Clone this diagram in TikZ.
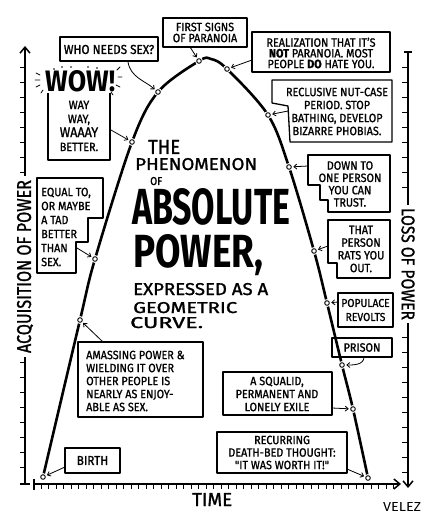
\documentclass[tikz,border=0pt]{standalone}
\usepackage{fontspec}
\usepackage{graphicx}
\setmainfont{Fira Sans}
\newfontfamily\cmc[FakeBold=1.2, FakeStretch=0.9]{Fira Sans}
\usetikzlibrary{arrows.meta}
\tikzset{
  boxline/.style={line width=1.3pt, line join=round},
  btxt/.style={inner sep=0pt, align=center, font=\cmc\fontsize{12}{13}\selectfont},
  ptr/.style={line width=0.8pt, shorten >=1.5pt, -{Straight Barb[length=3pt,width=5pt]}},
  cdot/.style={circle, draw, fill=white, line width=0.9pt, inner sep=0pt, minimum size=4.6pt, preaction={draw=white, line width=3pt}},
  pcurve/.style={line width=2.6pt, line cap=round},
  axisline/.style={line width=1.5pt},
  tickline/.style={line width=0.9pt},
  axtip/.style={-{Straight Barb[length=6pt,width=10pt,line width=1.5pt]}},
  ttl/.style={inner sep=0pt, anchor=base west},
  spark/.style={line width=0.8pt, line cap=round},
}
\begin{document}
\begin{tikzpicture}[x=1pt,y=-1pt]
\useasboundingbox (0,0) rectangle (432,518);

% ---- axes ----
\draw[axisline] (25,484) -- (25,357);
\draw[axisline,axtip] (25,176) -- (25,46);
\draw[axisline] (20,484) -- (30,484);
\foreach \y in {67,82,...,172} \draw[tickline] (20,\y) -- (25,\y);
\foreach \y in {362,377,...,467} \draw[tickline] (20,\y) -- (25,\y);
\node[rotate=90, inner sep=0pt] (lacq) at (25,266.5) {\resizebox{173pt}{14pt}{\cmc ACQUISITION OF POWER}};

\draw[axisline,axtip] (34,484) -- (401,484);
\draw[axisline] (34,479) -- (34,490);
\foreach \x in {41,48.5,...,394} \draw[tickline] (\x,484) -- (\x,489);
\node[ttl] (ltime) at (192,506) {\resizebox{40pt}{13pt}{\cmc TIME}};

\draw[axisline] (404,52) -- (412,52);
\draw[axisline] (408,52) -- (408,205);
\draw[axisline,axtip] (408,323) -- (408,488);
\foreach \y in {67,82,...,187} \draw[tickline] (402,\y) -- (408,\y);
\foreach \y in {337,352,...,472} \draw[tickline] (402,\y) -- (408,\y);
\node[rotate=-90, inner sep=0pt] (lloss) at (408,264) {\resizebox{112pt}{13pt}{\cmc LOSS OF POWER}};

\node[ttl] (sig) at (383,511) {\resizebox{38pt}{9pt}{VELEZ}};

% ---- curve ----
\coordinate (p1) at (43,477);
\coordinate (p2) at (80,320);
\coordinate (p3) at (95,259);
\coordinate (p4) at (132,142);
\coordinate (p5) at (158,92);
\coordinate (p6) at (199,61);
\coordinate (pk) at (211,59);
\coordinate (p7) at (227,69);
\coordinate (p8) at (268,115);
\coordinate (p9) at (289,167);
\coordinate (p10) at (314,251);
\coordinate (p11) at (327,303);
\coordinate (p12) at (342,365);
\coordinate (p13) at (353,409);
\coordinate (p14) at (368,478);
\draw[pcurve] plot[smooth, tension=0.55] coordinates {(p1) (p2) (p3) (p4) (p5) (p6) (pk) (p7) (p8) (p9) (p10) (p11) (p12) (p13) (p14)};
\foreach \i in {1,...,14} \node[cdot] (d\i) at (p\i) {};

% ---- title ----
\node[ttl] (t1) at (148,154) {\resizebox{32pt}{14pt}{\cmc THE}};
\node[ttl] (t2) at (135,170) {\resizebox{122pt}{12pt}{\cmc PHENOMENON}};
\node[ttl] (t3) at (150,185) {\resizebox{12pt}{8pt}{\cmc OF}};
\node[ttl] (t4) at (132,224) {\resizebox{158pt}{36pt}{\bfseries ABSOLUTE}};
\node[ttl] (t5) at (133,267) {\resizebox{130pt}{33pt}{\bfseries POWER,}};
\node[ttl] (t6) at (133,295) {\resizebox{135pt}{12pt}{\cmc EXPRESSED AS A}};
\node[ttl] (t7) at (133,313) {\resizebox{104pt}{11pt}{\cmc GEOMETRIC}};
\node[ttl] (t8) at (130,328) {\resizebox{73pt}{11pt}{\cmc CURVE.}};

% ---- boxes ----
% who needs sex
\draw[boxline] (60,37) rectangle (158,61);
\node[btxt, font=\cmc\fontsize{13}{13}\selectfont] (n1) at (109,49.5) {WHO NEEDS SEX?};
\coordinate (a1) at (128,62);
\draw[ptr] (a1) to[out=-80,in=140] (d5);

% first signs
\draw[boxline] (163,18) rectangle (247,47);
\node[btxt, font=\cmc\fontsize{12}{11}\selectfont] (n2) at (205,32.5) {FIRST SIGNS\\OF PARANOIA};
\coordinate (a2) at (190,47);
\draw[ptr] (a2) -- (d6);

% realization
\draw[boxline] (252,32) rectangle (390,72);
\node[btxt, font=\cmc\fontsize{12}{10.7}\selectfont] (n3) at (321,53) {REALIZATION THAT IT’S\\{\bfseries NOT} PARANOIA. MOST\\PEOPLE {\bfseries DO} HATE YOU.};
\coordinate (a3) at (252,60);
\draw[ptr] (a3) -- (d7);

% reclusive
\draw[boxline] (272,80) -- (392,80) -- (392,142) -- (290,142) -- (288,106) -- (272,103) -- cycle;
\node[btxt, font=\cmc\fontsize{12}{13}\selectfont] (n4) at (337,111.5) {RECLUSIVE NUT-CASE\\PERIOD. STOP\\BATHING, DEVELOP\\BIZARRE PHOBIAS.};
\coordinate (a4) at (288,111);
\draw[ptr] (a4) -- (d8);

% wow
\draw[boxline] (48,93) -- (48,160) -- (110,160) -- (110,93);
\node[ttl] (wow) at (45,92) {\resizebox{70pt}{21pt}{\bfseries WOW!}};
\draw[spark] (36,73) -- (40,75) (35,80) -- (40,80) (36,87) -- (40,85) (41,93) -- (43,90)
  (117,70) -- (120,67) (118,77) -- (122,77) (116,85) -- (120,87) (111,92) -- (113,95);
\foreach \q in {(54,69),(62,67),(71,67),(88,67),(97,68)} \fill \q circle (0.8pt);
\node[btxt, font=\cmc\fontsize{12}{14}\selectfont] (n5) at (79,126) {WAY\\WAY,\\{\fontsize{14}{14}\selectfont WAAAY}\\BETTER.};
\coordinate (a5) at (111,130);
\draw[ptr] (a5) -- (d4);

% equal to
\draw[boxline] (37,178) -- (103,178) -- (103,218) -- (88,218) -- (88,242) -- (76,242) -- (76,273) -- (37,273) -- cycle;
\node[btxt, align=left, anchor=west, font=\cmc\fontsize{12}{14}\selectfont] (n6) at (41,227) {EQUAL TO,\\OR MAYBE\\A TAD\\BETTER\\THAN\\SEX.};
\coordinate (a6) at (77,248);
\draw[ptr] (a6) -- (d3);

% amassing
\draw[boxline] (78,342) rectangle (203,417);
\node[btxt, align=left, anchor=west, font=\cmc\fontsize{12}{13}\selectfont] (n7) at (86,381) {AMASSING POWER \&\\WIELDING IT OVER\\OTHER PEOPLE IS\\NEARLY AS ENJOY-\\ABLE AS SEX.};
\coordinate (a7) at (103,342);
\draw[ptr] (a7) -- (d2);

% birth
\draw[boxline] (65,448) rectangle (120,473);
\node[btxt, font=\cmc\fontsize{13}{13}\selectfont] (n8) at (92.5,460.5) {BIRTH};
\coordinate (a8) at (65,467);
\draw[ptr] (a8) -- (d1);

% down to one person
\draw[boxline] (308,155) -- (390,155) -- (390,212) -- (328,212) -- (328,200) -- (320,200) -- (320,185) -- (308,185) -- cycle;
\node[btxt, font=\cmc\fontsize{12}{12.3}\selectfont] (n9) at (350,184) {DOWN TO\\ONE PERSON\\YOU CAN\\TRUST.};
\coordinate (a9) at (308,166);
\draw[ptr] (a9) -- (d9);

% that person
\draw[boxline] (328,220) -- (390,220) -- (390,278) -- (337,278) -- (337,263) -- (328,263) -- cycle;
\node[btxt, font=\cmc\fontsize{12}{12.7}\selectfont] (n10) at (361,249) {THAT\\PERSON\\RATS YOU\\OUT.};
\coordinate (a10) at (328,246);
\draw[ptr] (a10) -- (d10);

% populace
\draw[boxline] (338,293) rectangle (393,327);
\node[btxt, font=\cmc\fontsize{11.5}{14}\selectfont] (n11) at (365.5,310) {POPULACE\\REVOLTS};
\coordinate (a11) at (338,302);
\draw[ptr] (a11) -- (d11);

% prison
\draw[boxline] (332,338) rectangle (392,357);
\node[btxt, font=\cmc\fontsize{12}{13}\selectfont] (n12) at (362,347.5) {PRISON};
\coordinate (a12) at (364,357);
\draw[ptr] (a12) to[out=-90,in=0] (d12);

% exile
\draw[boxline] (223,372) rectangle (332,415);
\node[btxt, font=\cmc\fontsize{12}{13}\selectfont] (n13) at (277,394) {A SQUALID,\\PERMANENT AND\\LONELY EXILE};
\coordinate (a13) at (332,408);
\draw[ptr] (a13) -- (d13);

% death-bed
\draw[boxline] (217,432) rectangle (347,473);
\node[btxt, font=\cmc\fontsize{12}{12.5}\selectfont] (n14) at (282,452.5) {RECURRING\\DEATH-BED THOUGHT:\\"IT WAS WORTH IT!"};
\coordinate (a14) at (347,469);
\draw[ptr] (a14) -- (d14);
\end{tikzpicture}
\end{document}
